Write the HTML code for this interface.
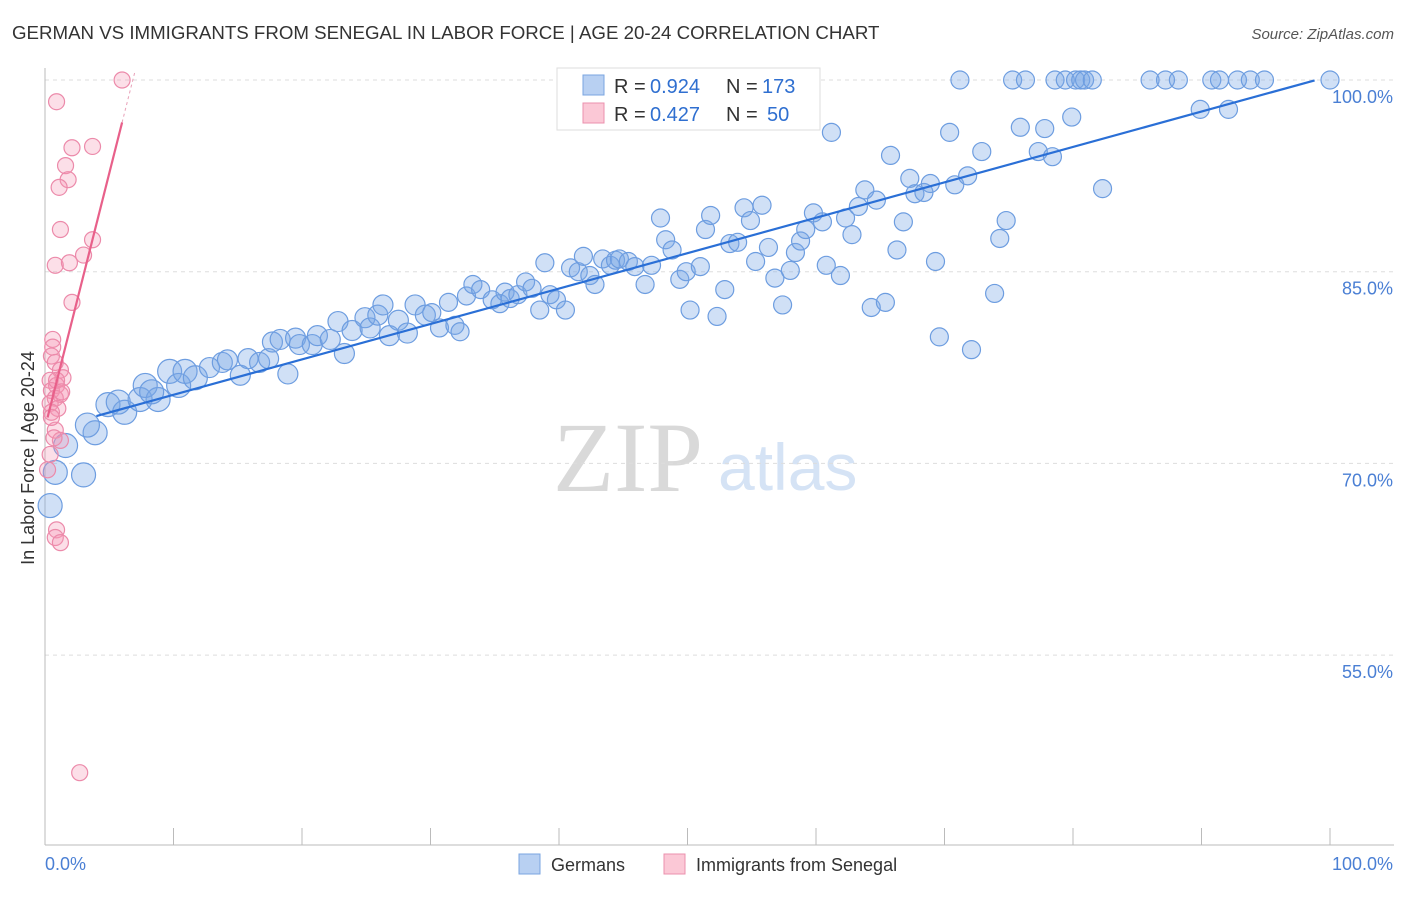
<!DOCTYPE html>
<html><head><meta charset="utf-8"><style>
body{margin:0;background:#fff;font-family:"Liberation Sans",sans-serif}
</style></head><body>
<svg id="chart" width="1406" height="892" xmlns="http://www.w3.org/2000/svg" font-family="Liberation Sans, sans-serif">
<text x="12" y="39" font-size="18.7" fill="#333">GERMAN VS IMMIGRANTS FROM SENEGAL IN LABOR FORCE | AGE 20-24 CORRELATION CHART</text>
<text x="1394" y="39" font-size="15" fill="#555" font-style="italic" text-anchor="end">Source: ZipAtlas.com</text>
<text x="34" y="458" font-size="18" fill="#333" text-anchor="middle" transform="rotate(-90 34 458)">In Labor Force | Age 20-24</text>
<text x="553" y="491" font-size="100" fill="#d9d9d9" style="font-family:'Liberation Serif',serif">ZIP</text>
<text x="718" y="490" font-size="66" fill="#d5e3f5">atlas</text>
<g id="grid"></g><g id="pts"></g><g id="lines"></g>
<g>
<rect x="557" y="68" width="263" height="62" fill="#fff" stroke="#ddd"/>
<rect x="583" y="75" width="21" height="20" fill="#b8d0f2" stroke="#7aa5e0"/>
<text x="614" y="93" font-size="20" fill="#333">R = </text><text x="650" y="93" font-size="20" fill="#2f6fd0">0.924</text>
<text x="726" y="93" font-size="20" fill="#333">N = </text><text x="762" y="93" font-size="20" fill="#2f6fd0">173</text>
<rect x="583" y="103" width="21" height="20" fill="#fbc8d6" stroke="#eb90ad"/>
<text x="614" y="121" font-size="20" fill="#333">R = </text><text x="650" y="121" font-size="20" fill="#2f6fd0">0.427</text>
<text x="726" y="121" font-size="20" fill="#333">N = </text><text x="767" y="121" font-size="20" fill="#2f6fd0">50</text>
</g>
<g>
<rect x="519" y="854" width="21" height="20" fill="#b8d0f2" stroke="#7aa5e0"/>
<text x="551" y="871" font-size="18" fill="#333">Germans</text>
<rect x="664" y="854" width="21" height="20" fill="#fbc8d6" stroke="#eb90ad"/>
<text x="696" y="871" font-size="18" fill="#333">Immigrants from Senegal</text>
</g>
</svg>
<script>
const yTicks=[55,70,85,100];
const xTickLabels=["0.0%","100.0%"];
const blueX=[0.4,0.8,3.0,1.6,3.9,3.3,4.9,6.2,5.7,7.4,7.8,8.8,8.3,9.7,10.4,10.9,11.7,12.8,13.8,14.2,15.2,15.8,16.7,17.4,17.7,18.3,18.9,19.5,19.8,20.8,21.2,22.2,22.8,23.3,23.9,24.9,25.3,25.9,26.3,26.8,27.5,28.2,28.8,29.6,30.1,30.7,31.4,31.9,32.3,32.8,33.3,33.9,34.8,35.4,35.8,36.2,36.8,37.4,37.9,38.5,38.9,39.3,39.8,40.5,40.9,41.5,41.9,42.4,42.8,43.4,44.0,44.4,44.7,45.4,45.9,46.7,47.2,47.9,48.3,48.8,49.4,49.9,50.2,51.0,51.4,51.8,52.3,52.9,53.3,53.9,54.4,54.9,55.3,55.8,56.3,56.8,57.4,58.0,58.4,58.8,59.2,59.8,60.5,60.8,61.2,61.9,62.3,62.8,63.3,63.8,64.3,64.7,65.4,65.8,66.3,66.8,67.3,67.7,68.4,68.9,69.3,69.6,70.4,70.8,71.2,71.8,72.1,72.9,73.9,74.3,74.8,75.3,75.9,76.3,77.3,77.8,78.4,78.6,79.4,79.9,80.2,80.6,80.9,81.5,82.3,86.0,87.2,88.2,89.9,90.8,91.4,92.1,92.8,93.8,94.9,100];
const blueY=[66.7,69.3,69.1,71.4,72.4,73.0,74.6,74.0,74.8,75.0,76.1,75.0,75.6,77.2,76.1,77.2,76.7,77.5,77.9,78.1,76.9,78.2,77.9,78.2,79.5,79.7,77.0,79.8,79.3,79.3,80.0,79.7,81.1,78.6,80.4,81.4,80.6,81.6,82.4,80.0,81.2,80.2,82.4,81.6,81.8,80.6,82.6,80.8,80.3,83.1,84.0,83.6,82.8,82.5,83.4,82.9,83.2,84.2,83.7,82.0,85.7,83.2,82.8,82.0,85.3,85.0,86.2,84.7,84.0,86.0,85.5,85.9,86.0,85.8,85.4,84.0,85.5,89.2,87.5,86.7,84.4,85.0,82.0,85.4,88.3,89.4,81.5,83.6,87.2,87.3,90.0,89.0,85.8,90.2,86.9,84.5,82.4,85.1,86.5,87.4,88.3,89.6,88.9,85.5,95.9,84.7,89.2,87.9,90.1,91.4,82.2,90.6,82.6,94.1,86.7,88.9,92.3,91.1,91.2,91.9,85.8,79.9,95.9,91.8,100,92.5,78.9,94.4,83.3,87.6,89.0,100,96.3,100,94.4,96.2,94.0,100,100,97.1,100,100,100,100,91.5,100,100,100,97.7,100,100,97.7,100,100,100,100];
const pinkX=[6.0,0.9,2.1,3.7,1.6,1.8,1.1,1.2,3.7,3.0,0.8,1.9,2.1,0.6,0.6,0.5,0.8,1.2,1.4,0.4,0.9,0.5,1.2,0.8,0.4,1.0,0.5,0.8,1.2,0.4,0.2,0.9,0.8,1.2,2.7,0.5,0.9,1.3,0.7];
const pinkY=[100,98.3,94.7,94.8,93.3,92.2,91.6,88.3,87.5,86.3,85.5,85.7,82.6,79.7,79.1,78.4,77.9,77.3,76.7,76.5,76.1,75.7,75.4,75.1,74.7,74.3,74.0,72.6,71.8,70.7,69.5,64.8,64.2,63.8,45.8,73.6,76.5,75.6,72.0];
const blueLine=[72.6,0.277];
const pinkLine=[72.8,3.98];
const NS="http://www.w3.org/2000/svg";
function xs(v){return 45+v*12.85;}
function ys(v){return 80+(100-v)*12.78;}
function mk(tag,attrs,parent){const e=document.createElementNS(NS,tag);for(const k in attrs)e.setAttribute(k,attrs[k]);parent.appendChild(e);return e;}
const grid=document.getElementById('grid');
yTicks.forEach(t=>{
 const l=mk('line',{x1:45,x2:1394,y1:ys(t),y2:ys(t),stroke:'#ddd','stroke-dasharray':'4,4'},grid);
 
 
 const tx=mk('text',{x:1393,y:ys(t)+23,'font-size':18,fill:'#4a7fd4','text-anchor':'end'},grid);
 tx.textContent=t.toFixed(1)+'%';
 
 
});
const ax=mk('line',{x1:45,x2:1394,y1:845,y2:845,stroke:'#bbb'},grid);


const ay=mk('line',{x1:45,x2:45,y1:68,y2:845,stroke:'#bbb'},grid);


for(let i=0;i<=10;i++){const t=mk('line',{x1:xs(i*10),x2:xs(i*10),y1:828,y2:845,stroke:'#bbb'},grid);
 
 }
const x0=mk('text',{x:45,y:870,'font-size':18,fill:'#4a7fd4'},grid);x0.textContent=xTickLabels[0];


const x1=mk('text',{x:1393,y:870,'font-size':18,fill:'#4a7fd4','text-anchor':'end'},grid);x1.textContent=xTickLabels[1];


const pts=document.getElementById('pts');
blueX.forEach((v,i)=>{const r=v<12?12:(v<30?10:9);
 const c=mk('circle',{cx:xs(v),cy:ys(blueY[i]),r:r,fill:'rgba(120,165,230,0.35)',stroke:'#6d9de0','stroke-width':1.2},pts);
 
 });
pinkX.forEach((v,i)=>{
 const c=mk('circle',{cx:xs(v),cy:ys(pinkY[i]),r:8,fill:'rgba(245,150,180,0.3)',stroke:'#ec8aaa','stroke-width':1.2},pts);
 
 });
const lines=document.getElementById('lines');
const bl=mk('line',{x1:xs(4),y1:ys(blueLine[0]+blueLine[1]*4),x2:xs(98.8),y2:ys(blueLine[0]+blueLine[1]*98.8),stroke:'#2a6fd6','stroke-width':2.2},lines);


const pl=mk('line',{x1:xs(0.2),y1:ys(pinkLine[0]+pinkLine[1]*0.2),x2:xs(6),y2:ys(pinkLine[0]+pinkLine[1]*6),stroke:'#e8608a','stroke-width':2.2},lines);


const pd=mk('line',{x1:xs(6),y1:ys(pinkLine[0]+pinkLine[1]*6),x2:xs(7),y2:ys(pinkLine[0]+pinkLine[1]*7),stroke:'#e8a0b8','stroke-width':1,'stroke-dasharray':'3,3'},lines);


</script>
</body></html>
